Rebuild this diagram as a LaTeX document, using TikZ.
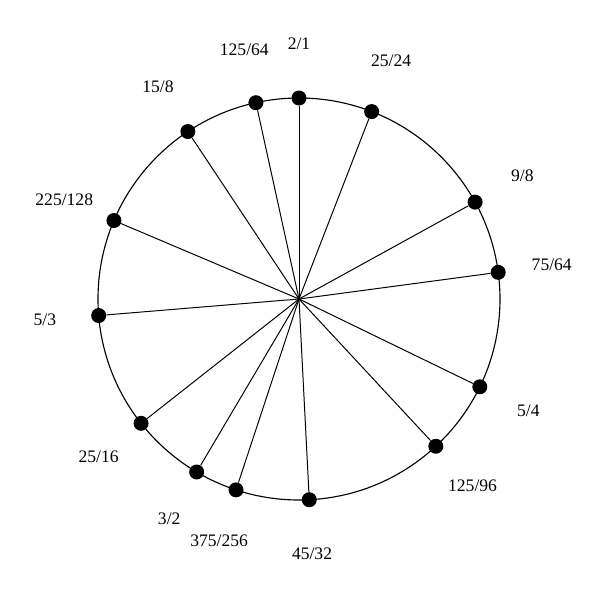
\documentclass[tikz,border=0pt]{standalone}
\usepackage{fontspec}
\setmainfont{Liberation Serif}
\begin{document}
\begin{tikzpicture}[x=0.25mm, y=-0.25mm,
    pitch/.style={circle, fill=black, inner sep=0pt, minimum size=3.75mm},
    ratio/.style={font=\fontsize{12.5}{15}\selectfont}]
	\def\rad{201}
	\def\lab{255}

	\useasboundingbox (0,0) rectangle (600,600);
	\coordinate (c) at (299,299);
	\draw[line width=0.8pt] (c) circle (\rad);

	\foreach \a/\b [count=\i] in {2/1, 25/24, 9/8, 75/64, 5/4, 125/96, 45/32, 375/256, 3/2, 25/16, 5/3, 225/128, 15/8, 125/64} {
		\pgfmathsetmacro{\ang}{-90 + ln(\a/\b)/ln(2)*360}
		\node[pitch] (p\i) at ([shift={(\ang:\rad)}]c) {};
		\draw[line width=0.7pt] (c) -- (p\i);
		\node[ratio] (l\i) at ([shift={(\ang:\lab)}]c) {\a/\b};
	}
\end{tikzpicture}
\end{document}
